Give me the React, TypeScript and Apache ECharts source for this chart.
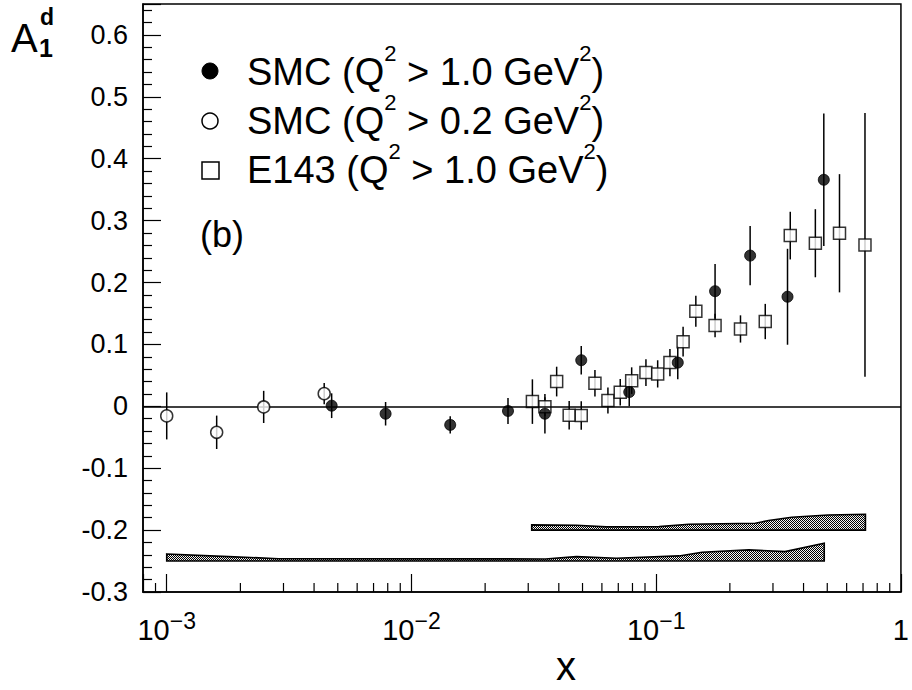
import React, { useEffect, useRef } from 'react';
import * as echarts from 'echarts';

const FONT = '"Liberation Sans", Arial, Helvetica, sans-serif';

// SMC (Q^2 > 1.0 GeV^2) — filled circles
const smcHiX = [0.00472, 0.00784, 0.0144, 0.0248, 0.0351, 0.0494, 0.0776, 0.1225, 0.174, 0.242, 0.344, 0.484];
const smcHiY = [0.001, -0.012, -0.030, -0.0075, -0.012, 0.0745, 0.023, 0.0706, 0.186, 0.2435, 0.177, 0.366];
const smcHiErr = [0.02, 0.019, 0.014, 0.021, 0.032, 0.023, 0.023, 0.027, 0.044, 0.048, 0.0775, 0.107];

// SMC (Q^2 > 0.2 GeV^2) — open circles
const smcLoX = [0.001, 0.0016, 0.00249, 0.0044];
const smcLoY = [-0.0155, -0.042, -0.001, 0.0205];
const smcLoErr = [0.038, 0.027, 0.026, 0.017];

// E143 (Q^2 > 1.0 GeV^2) — open squares
const e143X = [0.0312, 0.0351, 0.0392, 0.0441, 0.0494, 0.0562, 0.0635, 0.0713, 0.0794, 0.0908, 0.1014, 0.1138, 0.1288, 0.1452, 0.174, 0.221, 0.279, 0.353, 0.447, 0.561, 0.713];
const e143Y = [0.0076, -0.0005, 0.040, -0.0144, -0.015, 0.0373, 0.0092, 0.0228, 0.0415, 0.0545, 0.0524, 0.0706, 0.1045, 0.1536, 0.1304, 0.125, 0.137, 0.2758, 0.2635, 0.2796, 0.2607];
const e143Err = [0.036, 0.015, 0.024, 0.023, 0.023, 0.0215, 0.021, 0.0215, 0.0215, 0.0215, 0.022, 0.022, 0.024, 0.025, 0.019, 0.022, 0.0285, 0.0385, 0.055, 0.0955, 0.213];

// Systematic error bands
const e143BandX = [0.031, 0.0472, 0.0625, 0.1028, 0.136, 0.254, 0.288, 0.358, 0.504, 0.716];
const e143BandTop = [-0.1916, -0.1921, -0.1948, -0.1943, -0.1905, -0.1889, -0.1846, -0.1792, -0.1755, -0.1744];
const e143BandBase = -0.2;

const smcBandX = [0.001, 0.00179, 0.00286, 0.0353, 0.0472, 0.0687, 0.124, 0.154, 0.239, 0.336, 0.486];
const smcBandTop = [-0.2385, -0.2428, -0.2462, -0.2466, -0.2428, -0.2454, -0.2417, -0.2357, -0.232, -0.2347, -0.2212];
const smcBandBase = -0.25;

// Axis ranges and log minor ticks
const xMin = 0.0008;
const xMax = 1;
const yMin = -0.3;
const yMax = 0.65;
const xMinorTicks = [0.0009, 0.002, 0.003, 0.004, 0.005, 0.006, 0.007, 0.008, 0.009, 0.02, 0.03, 0.04, 0.05, 0.06, 0.07, 0.08, 0.09, 0.2, 0.3, 0.4, 0.5, 0.6, 0.7, 0.8, 0.9];

function makePattern(): HTMLCanvasElement {
  const c = document.createElement('canvas');
  c.width = 2;
  c.height = 2;
  const ctx = c.getContext('2d')!;
  ctx.fillStyle = '#f4f4f4';
  ctx.fillRect(0, 0, 2, 2);
  ctx.fillStyle = '#000';
  ctx.fillRect(0, 0, 1, 1);
  ctx.fillRect(1, 1, 1, 1);
  return c;
}

function errorSeries(xs: number[], ys: number[], es: number[]) {
  return {
    type: 'custom',
    silent: true,
    z: 2,
    data: xs.map((x, i) => [x, ys[i], es[i]]),
    encode: { x: 0, y: 1 },
    renderItem: (_p: any, api: any) => {
      const x = api.value(0);
      const y = api.value(1);
      const e = api.value(2);
      const a = api.coord([x, y - e]);
      const b = api.coord([x, y + e]);
      return {
        type: 'line',
        shape: { x1: a[0], y1: a[1], x2: b[0], y2: b[1] },
        style: { stroke: '#000', lineWidth: 1.5 },
      };
    },
  };
}

function bandSeries(xs: number[], tops: number[], base: number, pattern: any) {
  return {
    type: 'custom',
    silent: true,
    z: 1,
    data: [[xs[0], base]],
    encode: { x: 0, y: 1 },
    renderItem: (_p: any, api: any) => {
      const pts = xs.map((x, i) => api.coord([x, tops[i]]));
      pts.push(api.coord([xs[xs.length - 1], base]));
      pts.push(api.coord([xs[0], base]));
      return {
        type: 'polygon',
        shape: { points: pts },
        style: { fill: pattern, stroke: '#000', lineWidth: 1.6 },
      };
    },
  };
}

function legendText(label: string, y: number) {
  return {
    type: 'text',
    x: 247,
    y,
    z: 10,
    style: {
      text: label,
      verticalAlign: 'top',
      fill: '#000',
      rich: {
        a: { fontSize: 38, lineHeight: 60, fontFamily: FONT, fill: '#000' },
        s: { fontSize: 22, lineHeight: 32, fontFamily: FONT, fill: '#000', verticalAlign: 'top' },
      },
    },
  };
}

export default function App() {
  const ref = useRef<HTMLDivElement>(null);
  useEffect(() => {
    if (!ref.current) return;
    const chart = echarts.init(ref.current, undefined, { renderer: 'svg' });
    const pattern = { image: makePattern(), repeat: 'repeat' };
    const option: any = {
      animation: false,
      backgroundColor: '#fff',
      grid: {
        left: 143,
        right: 5,
        top: 4,
        bottom: 98,
        show: true,
        borderColor: '#000',
        borderWidth: 1.5,
        backgroundColor: 'transparent',
      },
      xAxis: {
        type: 'log',
        logBase: 10,
        min: xMin,
        max: xMax,
        axisLine: { show: true, onZero: false, lineStyle: { color: '#000', width: 1.5 } },
        axisTick: { show: true, inside: true, length: 18, lineStyle: { color: '#000', width: 1.2 } },
        splitLine: { show: false },
        axisLabel: {
          show: true,
          margin: 17,
          showMinLabel: true,
          showMaxLabel: true,
          color: '#000',
          formatter: (v: number) => {
            const e = Math.log10(v);
            const r = Math.round(e);
            if (Math.abs(e - r) > 1e-6) return '';
            if (r === 0) return '{b|1}';
            return '{b|10}{s|\u2212' + -r + '}';
          },
          rich: {
            b: { fontSize: 29, lineHeight: 42, fontFamily: FONT, color: '#000' },
            s: { fontSize: 23, lineHeight: 23, fontFamily: FONT, color: '#000', verticalAlign: 'top' },
          },
        },
      },
      yAxis: {
        type: 'value',
        min: yMin,
        max: yMax,
        interval: 0.1,
        axisLine: { show: true, onZero: false, lineStyle: { color: '#000', width: 1.5 } },
        axisTick: { show: true, inside: true, length: 18, lineStyle: { color: '#000', width: 1.2 } },
        minorTick: { show: true, splitNumber: 5, length: 9, lineStyle: { color: '#000', width: 1.2 } },
        splitLine: { show: false },
        axisLabel: {
          margin: 15,
          fontSize: 27,
          fontFamily: FONT,
          color: '#000',
          showMaxLabel: true,
          formatter: (v: number) => {
            const r = Math.round(v * 10) / 10;
            if (Math.abs(v - r) > 1e-6) return '';
            return r === 0 ? '0' : String(r);
          },
        },
      },
      series: [
        bandSeries(e143BandX, e143BandTop, e143BandBase, pattern),
        bandSeries(smcBandX, smcBandTop, smcBandBase, pattern),
        {
          type: 'custom',
          silent: true,
          z: 3,
          data: xMinorTicks.map((x) => [x, yMin]),
          encode: { x: 0, y: 1 },
          renderItem: (_p: any, api: any) => {
            const p = api.coord([api.value(0), api.value(1)]);
            return {
              type: 'line',
              shape: { x1: p[0], y1: p[1], x2: p[0], y2: p[1] - 9 },
              style: { stroke: '#000', lineWidth: 1.2 },
            };
          },
        },
        errorSeries(e143X, e143Y, e143Err),
        errorSeries(smcLoX, smcLoY, smcLoErr),
        errorSeries(smcHiX, smcHiY, smcHiErr),
        {
          name: 'E143 (Q² > 1.0 GeV²)',
          type: 'scatter',
          z: 4,
          symbol: 'rect',
          symbolSize: 12,
          itemStyle: { color: '#fff', borderColor: '#000', borderWidth: 1.5 },
          data: e143X.map((x, i) => [x, e143Y[i]]),
          markLine: {
            silent: true,
            symbol: 'none',
            label: { show: false },
            lineStyle: { color: '#000', width: 1.5, type: 'solid' },
            data: [{ yAxis: 0 }],
          },
        },
        {
          name: 'SMC (Q² > 0.2 GeV²)',
          type: 'scatter',
          z: 5,
          symbol: 'circle',
          symbolSize: 12,
          itemStyle: { color: '#fff', borderColor: '#000', borderWidth: 1.5 },
          data: smcLoX.map((x, i) => [x, smcLoY[i]]),
        },
        {
          name: 'SMC (Q² > 1.0 GeV²)',
          type: 'scatter',
          z: 6,
          symbol: 'circle',
          symbolSize: 11,
          itemStyle: { color: '#000', borderColor: '#000', borderWidth: 1 },
          data: smcHiX.map((x, i) => [x, smcHiY[i]]),
        },
      ],
      graphic: [
        { type: 'text', x: 11, y: 38, z: 10, style: { text: 'A', fontSize: 40, fontFamily: FONT, fill: '#000', verticalAlign: 'middle' } },
        { type: 'text', x: 40, y: 17, z: 10, style: { text: 'd', fontSize: 23, fontWeight: 'bold', fontFamily: FONT, fill: '#000', verticalAlign: 'middle' } },
        { type: 'text', x: 39, y: 48, z: 10, style: { text: '1', fontSize: 25, fontWeight: 'bold', fontFamily: FONT, fill: '#000', verticalAlign: 'middle' } },
        { type: 'text', x: 566, y: 666, z: 10, style: { text: 'x', fontSize: 40, fontFamily: FONT, fill: '#000', align: 'center', verticalAlign: 'middle' } },
        { type: 'circle', z: 10, shape: { cx: 210, cy: 71, r: 8 }, style: { fill: '#000', stroke: '#000', lineWidth: 1 } },
        { type: 'circle', z: 10, shape: { cx: 210, cy: 121, r: 8 }, style: { fill: '#fff', stroke: '#000', lineWidth: 1.5 } },
        { type: 'rect', z: 10, shape: { x: 202, y: 162, width: 17, height: 17 }, style: { fill: '#fff', stroke: '#000', lineWidth: 1.5 } },
        legendText('{a|SMC (Q}{s|2}{a| > 1.0 GeV}{s|2}{a|)}', 42),
        legendText('{a|SMC (Q}{s|2}{a| > 0.2 GeV}{s|2}{a|)}', 91),
        legendText('{a|E143 (Q}{s|2}{a| > 1.0 GeV}{s|2}{a|)}', 140),
        { type: 'text', x: 200, y: 234, z: 10, style: { text: '(b)', fontSize: 36, fontFamily: FONT, fill: '#000', verticalAlign: 'middle' } },
      ],
    };
    chart.setOption(option);
    return () => chart.dispose();
  }, []);
  return <div ref={ref} style={{ position: 'fixed', left: 0, top: 0, width: 912, height: 690, background: '#fff' }} />;
}
